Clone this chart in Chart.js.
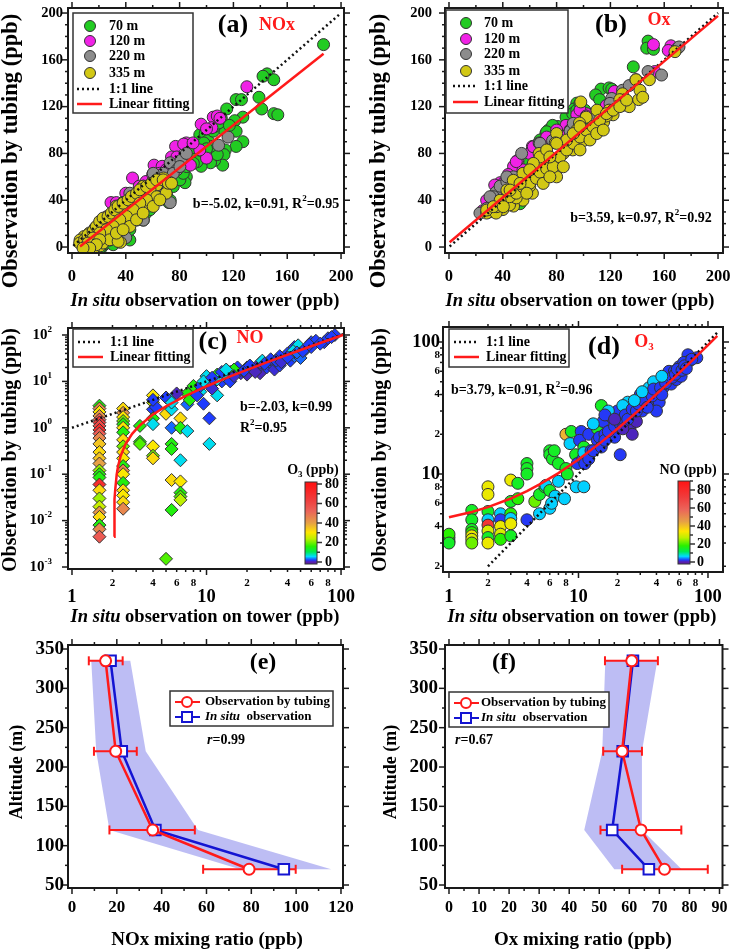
<!DOCTYPE html>
<html>
<head>
<meta charset="utf-8">
<title>Tubing vs in situ observation</title>
<script src="https://cdn.jsdelivr.net/npm/chart.js@4.4.1/dist/chart.umd.min.js"></script>
<style>
  body { margin: 0; background: #fff; }
  #page { position: relative; width: 732px; height: 951px; }
  #page canvas { position: absolute; left: 0; top: 0; }
</style>
</head>
<body>
<div id="page">
  <canvas id="pa" width="732" height="951"></canvas>
  <canvas id="pb" width="732" height="951"></canvas>
  <canvas id="pc" width="732" height="951"></canvas>
  <canvas id="pd" width="732" height="951"></canvas>
  <canvas id="pe" width="732" height="951"></canvas>
  <canvas id="pf" width="732" height="951"></canvas>
</div>
<script>
// ---------- values ----------
const heights = [70, 120, 220, 335];

// (a) NOx, [in situ, tubing]
const nox70 = [[187,173],[145,148],[150,143],[142,146],[139,128],[141,118],[150,114],[153,113],[122,126],[126,126],[127,111],[115,118],[121,108],[127,90],[122,86],[122,99],[111,110],[113,100],[114,83],[113,79],[112,70],[106,74],[103,72],[108,79],[95,80],[96,69],[93,73],[94,89],[95,96],[99,97],[101,91],[105,99],[106,103],[109,106],[103,86],[98,89],[85,86],[84,69],[85,60],[84,55],[80,63],[77,60],[73,40],[72,38],[53,23],[43,6],[23,1],[21,-2],[18,-3],[32,9],[40,10],[80,69],[75,56],[70,52],[63,40],[55,29],[48,23],[40,18],[33,12],[28,6],[88,80],[90,85],[117,104],[100,84],[20.6,-1],[25.6,3.4],[30.6,2],[35.5,11.9],[43,14.8],[50.4,26],[57.9,31.8],[65.3,43.2],[70.3,46],[75.3,51.7],[80.2,57.4],[82.7,63],[85.2,68.8],[90.2,71.6]];
const nox120 = [[130,137],[96,105],[105,111],[104,102],[100,101],[100,76],[95,83],[88,70],[85,89],[77,86],[83,88],[74,77],[61,70],[67,69],[70,66],[45,59],[65,63],[60,38],[29,38],[50,52],[55,56],[40,46],[33,38],[26,26],[18,15],[13,11],[60,62],[78,77],[90,89],[108,112],[110,110]];
const nox220 = [[116,94],[109,87],[73,38],[53,23],[40,8],[43,46],[53,52],[60,56],[68,63],[73,72],[78,66],[81,74],[70,52],[63,46],[55,40],[48,35],[40,26],[33,20],[26,15],[18,9],[11,5],[85,80],[63,40],[38,38],[47,44],[50.4,43.2],[62.9,51.7],[70.3,57.4],[75.3,63],[80.2,68.8],[40.5,29],[33,23.3],[28,17.6],[65.3,46],[60.4,63]];
const nox335 = [[73,55],[68,59],[63,53],[58,49],[53,52],[48,43],[43,40],[38,38],[33,35],[31,29],[26,25],[21,20],[17,16],[13,12],[9,9],[6,6],[36,4],[28,6],[21,1],[16,-1],[11,1],[58,38],[53,35],[45,29],[40,23],[36,19],[31,15],[23,12],[63,43],[70,46],[50,40],[45,23],[28,12],[40,32],[19,11],[15,8],[25,18],[35,27],
  [5.7,3.4],[9.4,6.2],[11.9,10.5],[15.7,13.4],[18.1,17.6],[20.6,21.9],[23.1,24.7],[26.8,26.1],[29.3,29],[31.8,31.8],[34.3,34.7],[38,37.5],[41.7,40.3],[44.2,43.2],[48,46],[50.4,48.9],[55.4,51.7],[59.1,54.5],[62.9,57.4],[67.8,57.4],[71.6,54.5],[74,54.5],[55.4,40.3],[50.4,37.5],[45.5,31.8],[40.5,26.1],[35.5,23.3],[30.6,17.6],[25.6,14.8],[20.6,11.9],[15.7,7.7],[11.9,3.4],[23.1,3.4],[28.1,6.2],[34.3,4.8],[43,17.6],[48,23.3],[52.9,29],[60.4,34.7],[65.3,40.3],[33,11.9],[38,14.8],[20.6,6.2],[18.1,2],[13.2,-0.9],[8.2,-0.9]];
const noxFit = [[6,0.4],[187,165.2]];
const noxOne = [[1,1],[200,200]];

// (b) Ox
const ox70 = [[148,176],[147,170],[152,169],[137,154],[113,135],[109,130],[119,136],[121,135],[95,123],[93,118],[87,111],[81,103],[74,100],[72,97],[77,104],[92,114],[101,117],[112,126],[55,43],[51,40],[48,37],[38,32],[54,47],[66,88],[85,95],[60,72],[100,108],[72.6,98.5],[67.7,91.5],[95,117],[97.4,122.8],[52.8,37]];
const ox120 = [[152,173],[165,172],[163,168],[153,150],[123,133],[117,121],[95,113],[87,104],[72,91],[74,89],[62,86],[60,80],[51,74],[48,69],[44,62],[38,55],[34,53],[28,40],[25,31],[82,96],[90,100],[102,114],[67,83],[55,66],[110,112],[42,50],[50,73],[62.7,85.7],[72.6,94],[80,100],[40.4,54.4],[35.5,47],[97.4,117],[102,112]];
const ox220 = [[170,170],[171,171],[148,150],[158,147],[129,134],[121,127],[129,121],[112,114],[107,109],[90,99],[54,80],[48,60],[35,47],[33,43],[38,52],[43,56],[28,33],[23,29],[67,89],[77,91],[97,103],[134,138],[139,143],[57,63],[62,69],[30,30],[30.5,43],[67.7,88.6],[92.4,105.7],[119.7,122.8],[43,60]];
const ox335 = [[168,167],[149,143],[139,143],[141,126],[142,134],[129,131],[119,117],[115,107],[107,99],[110,117],[98,124],[102,111],[97,106],[90,91],[87,86],[80,97],[79,89],[80,60],[74,66],[72,77],[66,72],[62,60],[57,56],[53,52],[48,46],[43,40],[38,38],[33,33],[28,29],[67,80],[82,77],[92,83],[100,91],[105,94],[112,103],[122,113],[127,126],[134,120],[144,128],[55,40],[48,35],[62,46],[40,32],[45,36],[35,29],[70,62],[85,80],[95,100],[117,112],[60,52],[50,42],[77,72],
  [28,31.6],[35.5,34.5],[40,40],[45,43],[50,46],[55,51.5],[60,54.4],[65,58.7],[67.7,64],[72.6,67],[77.5,68.6],[82.5,77],[87.5,83],[92.4,88.6],[97.4,94],[102,100],[107,103],[112,108.5],[117,114],[122,117],[67.7,77],[72.6,83],[62.7,71.5],[55,63],[47.8,57],[43,48.7],[38,40],[33,34.5],[87.5,91.5],[92.4,97],[97.4,103],[80,88.6],[75,77],[60,66],[52.8,54.4],[45.4,48.7],[40.4,34.5],[57.8,46],[70,54.4],[75,60],[85,68.6],[97.4,83],[104.8,91.5],[109.8,97],[114.7,100],[127,120],[132,125.6]];
const oxFit = [[0.5,4.1],[200,197.6]];
const oxOne = [[0.5,0.5],[200,200]];

// (c) NO, [in situ, tubing, O3]
const noPts = [
  [1.6,3.0,15],[1.6,2.6,45],[1.6,2.2,30],[1.6,1.8,42],[1.6,1.5,55],[1.6,1.3,65],[1.6,1.1,60],[1.6,0.9,70],[1.6,0.75,55],[1.6,0.6,45],[1.6,0.45,35],[1.6,0.3,32],[1.6,0.22,35],[1.6,0.17,40],[1.6,0.12,22],[1.6,0.1,15],[1.6,0.085,15],[1.6,0.06,70],[1.6,0.045,32],[1.6,0.03,22],[1.6,0.02,25],[1.6,0.015,42],[1.6,0.012,32],[1.6,0.008,15],[1.6,0.0065,45],[1.6,0.0045,55],
  [2.4,2.6,32],[2.4,2.1,42],[2.4,1.7,30],[2.4,1.4,20],[2.4,1.2,15],[2.4,1.0,30],[2.4,0.8,15],[2.4,0.55,32],[2.4,0.4,20],[2.4,0.3,32],[2.4,0.22,30],[2.4,0.15,15],[2.4,0.12,45],[2.4,0.1,30],[2.4,0.065,15],[2.4,0.045,32],[2.4,0.035,30],[2.4,0.025,32],[2.4,0.018,45],
  [3.2,1.1,15],[3.2,0.5,15],[3.2,0.45,18],
  [4.0,5,30],[4.0,3.5,25],[4.0,2.5,2],[4.0,1.6,15],[4.0,1.2,6],[4.0,0.4,30],[4.0,0.25,20],[4.0,0.22,32],
  [5.0,2.0,32],[5.0,0.0015,18],
  [5.5,4.2,6],[5.5,2.5,6],[5.5,1.0,3],[5.5,0.45,15],[5.5,0.35,15],[5.5,0.075,32],[5.5,0.017,15],
  [6.4,1.6,32],[6.4,1.0,15],[6.4,0.2,6],[6.4,0.07,30],[6.4,0.04,15],[6.4,0.033,18],[6.4,0.028,24],
  [7.2,0.85,6],[7.2,3.2,3],[7.2,5.5,15],
  [8,8,15],[9,6,6],[9.5,3.3,2],[10.5,1.6,2],[10.5,0.45,6],[10,13,6],[12,14,15],[11,9,3],[12,5,6],[13,10,2],[11,7,1],[15,16,2],[14,12,6],[17,20,2],[18,15,1],[20,14,0.5],[22,18,2],[25,15,0.5],[24,20,2],[28,20,2],[30,25,2],[32,18,1],[35,22,2],[38,30,3],[40,40,2],[42,28,2],[45,35,3],[45,55,2],[48,60,6],[50,40,2],[60,70,2],[65,75,2],[75,70,2],[90,100,2],[6,5.5,0.5],[5,4.5,2],[7.5,4,15],[8.5,5,2],[4.2,2.8,2],[5.5,3.5,6],[4,4,2],[30,30,2],[20,20,2],[25,25,0.5],[15,10,2],[35,35,2],[55,50,3],[80,85,2],[60,55,2],[12,11,6],[9,8,2],[16,18,15],[26,28,6],[50,32,3],[44,45,6],
  [13,16,2],[14,18,6],[19,17,2],[21,22,2],[23,16,0.5],[27,24,2],[33,28,2],[36,26,1],[40,33,2],[47,42,3],[52,45,2],[58,62,2],[70,65,2],[85,90,2],[16,13,1],[9.5,10,6],[11,12,2]
];
const noFit = [[2.055,0.0045],[2.06,0.0094],[2.08,0.029],[2.1,0.049],[2.15,0.099],[2.2,0.148],[2.3,0.247],[2.5,0.445],[2.8,0.742],[3.2,1.138],[4,1.93],[5,2.92],[7,4.9],[10,7.87],[15,12.82],[20,17.77],[30,27.67],[50,47.47],[80,77.17],[115,111.8]];
const noOne = [[1,1],[115,115]];

// (d) O3, [in situ, tubing, NO]
const o3Pts = [
  [1,3.3,15],[1,3.1,15],[1,3.5,18],[1,3.0,15],
  [1.5,5.3,15],[1.5,4.5,15],[1.5,3.8,15],[1.5,3.6,18],[1.5,3.4,32],[1.5,3.2,30],[1.5,3.0,22],
  [2,8,32],[2,7,32],[2,5.2,15],[2,4.5,6],[2,4.1,75],[2,3.7,30],[2,3.3,15],[2,3.0,32],
  [2.5,5,6],[2.5,4.5,2],[2.5,4,32],[2.5,3.5,30],[2.5,3.2,18],
  [3,9,32],[3,6.2,15],[3,5,18],[3,4.6,6],[3,4.2,32],[3,3.4,15],
  [3.4,8.5,15],[3.4,6.5,18],
  [4,12,15],[4,11,15],[4,10,15],[4,4.5,2],
  [4.6,6.2,22],[5,7,15],[5,5,6],[5.5,8,15],[5.6,8.2,6],
  [6,15,15],[6,14,15],[6.3,13,15],[6,7.5,15],[6,5.5,6],
  [6.5,15,15],[6.6,6.8,6],[6.2,6,6],
  [7,12,15],[7,8.8,6],
  [8,20,42],[8.8,21,15],[8,11,15],[8.2,10,15],[7.8,6.5,6],[8.6,17,6],
  [9.5,14,15],[9.8,12,2],[9.6,8,6],
  [10.5,21,2],[10.2,18,2],[11,16,15],[10.8,13,2],[11.2,12,2],[11,8,6],[11,14.5,6],
  [12,20,2],[12.5,15,2],[14,18,2],[14,22,15],[14.5,19,2],
  [15,33,15],[15.5,25,2],[16,20,2],[18,27,2],[18.5,22,6],[19,19,2],[20,30,2],[21,14,2],
  [22,26,2],[23,23,0.5],[25,32,2],[25,22,0.5],[26,20,0.5],[27,28,2],[30,40,2],[30,35,2],[31,30,2],[28,25,0.5],[35,45,6],[35,40,2],[36,33,2],[40,47,2],[40,42,2],[42,35,2],[40,30,2],[45,50,2],[45,45,2],[50,55,2],[50,60,2],[52,48,2],[55,60,2],[57,52,2],[60,65,2],[62,55,2],[70,80,2],[72,72,2],[82,76,2],[17,30,6],[20,25,2],[24,35,6],[33,38,2],[38,50,6],[48,52,2],[65,70,2],[13,24,6],[16,28,2],[22,33,6],
  [12,13,2],[13,15,2],[15,16,2],[16,18,2],[17,21,2],[19,23,2],[21,24,2],[23,28,2],[24,26,2],[26,31,2],[28,30,2],[29,34,2],[32,36,2],[34,32,2],[37,39,2],[38,44,2],[43,45,2],[44,40,2],[47,49,2],[53,54,2],[56,57,2],[58,62,2],[63,61,2],[66,66,2],[68,63,2],[75,74,2],[27,36,6],[31,42,6],[44,55,6],[19,26,0.5],[22,22,0.5]
];
const o3Fit = [[1,4.7],[1.5,5.16],[2,5.61],[3,6.52],[4,7.43],[5,8.34],[7,10.16],[10,12.89],[15,17.44],[20,21.99],[30,31.09],[50,49.29],[70,67.49],[100,94.79],[118,111.2]];
const o3One = [[2,2],[118,118]];

// (e) NOx profile
const noxTube = [79, 36, 19.5, 15];
const noxTubeLo = [58.5, 16.7, 9.8, 7.5];
const noxTubeHi = [99.8, 54.8, 28.9, 22.6];
const noxSitu = [94.5, 37.2, 22.2, 17.2];
const noxBandLo = [75, 16.7, 10.8, 8.6];
const noxBandHi = [115.6, 56.2, 32.9, 26];

// (f) Ox profile
const oxTube = [71.7, 63.9, 57.6, 60.8];
const oxTubeLo = [57.6, 50.4, 51.3, 51.9];
const oxTubeHi = [86.1, 77.3, 64.2, 69.5];
const oxSitu = [66.5, 54.3, 57.8, 61.2];
const oxBandLo = [55, 45, 51, 52];
const oxBandHi = [77.4, 64.2, 64.2, 69.3];

// tick values
const ticks200 = [0, 40, 80, 120, 160, 200];
const ticks200MinorX = [20, 60, 100, 140, 180];
const ticks200MinorY = [10, 20, 30, 50, 60, 70, 90, 100, 110, 130, 140, 150, 170, 180, 190];
const logMajorX = [1, 10, 100];
const logMinorLabels = [2, 4, 6, 8, 20, 40, 60, 80];
const noDecades = [-3, -2, -1, 0, 1, 2];
const o3MajorY = [10, 100];
const altTicks = [50, 100, 150, 200, 250, 300, 350];
const noxProfTicks = [0, 20, 40, 60, 80, 100, 120];
const oxProfTicks = [0, 10, 20, 30, 40, 50, 60, 70, 80, 90];
const cbarTicks = [0, 20, 40, 60, 80];

// ---------- styling helpers ----------
const FAM = '"Liberation Serif", "Times New Roman", serif';
const COL = { g: '#22cc22', m: '#f022e6', k: '#8c8c8c', y: '#d2c814', red: '#ff1a1a', blue: '#1414d2' };
const CMAP = [
  [0, [90, 30, 170]], [0.025, [30, 60, 255]], [0.07, [0, 220, 255]], [0.13, [0, 235, 80]],
  [0.2, [40, 240, 0]], [0.3, [190, 240, 0]], [0.38, [255, 230, 0]], [0.5, [230, 160, 70]],
  [0.65, [235, 100, 90]], [0.8, [240, 60, 60]], [1, [255, 20, 20]]
];
function cmap(f) {
  f = Math.max(0, Math.min(1, f));
  for (let i = 1; i < CMAP.length; i++) {
    if (f <= CMAP[i][0]) {
      const [f0, c0] = CMAP[i - 1], [f1, c1] = CMAP[i];
      const t = (f - f0) / (f1 - f0);
      return 'rgb(' + c0.map((c, j) => Math.round(c + (c1[j] - c) * t)).join(',') + ')';
    }
  }
  return 'rgb(' + CMAP[CMAP.length - 1][1].join(',') + ')';
}

function fontFor(style, size) {
  const small = style.includes('u') || style.includes('d');
  return (style.includes('i') ? 'italic ' : '') + 'bold ' + (small ? Math.round(size * 0.62) : size) + 'px ' + FAM;
}
function rich(ctx, segs, x, y, size, o = {}) {
  let w = 0;
  for (const [t, s = ''] of segs) { ctx.font = fontFor(s, size); w += ctx.measureText(t).width; }
  ctx.save();
  ctx.translate(x, y);
  if (o.rot) ctx.rotate(o.rot);
  ctx.fillStyle = o.color || '#000';
  ctx.textAlign = 'left';
  ctx.textBaseline = 'middle';
  let cx = o.align === 'left' ? 0 : o.align === 'right' ? -w : -w / 2;
  for (const [t, s = ''] of segs) {
    ctx.font = fontFor(s, size);
    const dy = s.includes('u') ? -size * 0.38 : s.includes('d') ? size * 0.3 : 0;
    ctx.fillText(t, cx, dy);
    cx += ctx.measureText(t).width;
  }
  ctx.restore();
}
function line(ctx, x1, y1, x2, y2) {
  ctx.beginPath(); ctx.moveTo(x1, y1); ctx.lineTo(x2, y2); ctx.stroke();
}
function drawMark(ctx, m, x, y) {
  ctx.beginPath();
  if (m.type === 'rect') ctx.rect(x - m.r, y - m.r, 2 * m.r, 2 * m.r);
  else ctx.arc(x, y, m.r, 0, Math.PI * 2);
  ctx.fillStyle = m.fill; ctx.fill();
  ctx.lineWidth = m.lw || 1; ctx.strokeStyle = m.stroke; ctx.stroke();
}
function drawLegend(ctx, L) {
  const [x1, y1, x2, y2] = L.box;
  ctx.fillStyle = '#fff'; ctx.fillRect(x1, y1, x2 - x1, y2 - y1);
  ctx.lineWidth = 1.5; ctx.strokeStyle = '#333'; ctx.strokeRect(x1, y1, x2 - x1, y2 - y1);
  for (const r of L.rows) {
    if (r.line) {
      ctx.save();
      ctx.strokeStyle = r.line.color; ctx.lineWidth = r.line.width; ctx.setLineDash(r.line.dash || []);
      line(ctx, L.lx1, r.y, L.lx2, r.y);
      ctx.restore();
    }
    if (r.mark) drawMark(ctx, r.mark, L.mx, r.y);
    rich(ctx, r.segs, L.tx, r.y, L.size, { align: 'left' });
  }
}
function drawCbar(ctx, c) {
  const pix = v => c.y0 - v / c.vmax * (c.y0 - c.yTop);
  const g = ctx.createLinearGradient(0, pix(0), 0, pix(c.vmax));
  for (const [f, rgb] of CMAP) g.addColorStop(f, 'rgb(' + rgb.join(',') + ')');
  ctx.fillStyle = g;
  ctx.fillRect(c.x1, c.top, c.x2 - c.x1, c.bot - c.top);
  ctx.lineWidth = 1; ctx.strokeStyle = '#333';
  ctx.strokeRect(c.x1, c.top, c.x2 - c.x1, c.bot - c.top);
  ctx.lineWidth = 1.5;
  for (const v of cbarTicks) {
    line(ctx, c.x2, pix(v), c.x2 + 5, pix(v));
    rich(ctx, [[String(v)]], c.lx, pix(v), 14, { align: 'left' });
    if (v + 10 <= c.vmax) line(ctx, c.x2, pix(v + 10), c.x2 + 3, pix(v + 10));
  }
  rich(ctx, c.title, c.tx, c.ty, 14);
}

const decoPlugin = {
  id: 'deco',
  afterDatasetsDraw(chart, args, o) {
    const ctx = chart.ctx, a = chart.chartArea, sx = chart.scales.x, sy = chart.scales.y;
    ctx.save();
    ctx.strokeStyle = '#1a1a1a';
    ctx.lineWidth = 2;
    ctx.strokeRect(a.left, a.top, a.right - a.left, a.bottom - a.top);
    ctx.lineWidth = 1.5;
    const inX = p => p >= a.left - 0.5 && p <= a.right + 0.5;
    const inY = p => p >= a.top - 0.5 && p <= a.bottom + 0.5;
    for (const [vals, len] of [[o.xMaj, 6], [o.xMin, 3]]) {
      for (const v of vals) {
        const p = sx.getPixelForValue(v);
        if (!inX(p)) continue;
        line(ctx, p, a.bottom, p, a.bottom + len);
        line(ctx, p, a.top, p, a.top - len);
      }
    }
    for (const [vals, len] of [[o.yMaj, 6], [o.yMin, 3]]) {
      for (const v of vals) {
        const p = sy.getPixelForValue(v);
        if (!inY(p)) continue;
        line(ctx, a.left, p, a.left - len, p);
        line(ctx, a.right, p, a.right + len, p);
      }
    }
    for (const L of o.xLab) rich(ctx, L.segs, sx.getPixelForValue(L.v), L.y, L.size);
    for (const L of o.yLab) rich(ctx, L.segs, L.x, sy.getPixelForValue(L.v), L.size, { align: 'right' });
    for (const T of o.texts) rich(ctx, T.segs, T.x, T.y, T.size, T);
    if (o.legend) drawLegend(ctx, o.legend);
    if (o.cbar) drawCbar(ctx, o.cbar);
    ctx.restore();
  }
};

// ---------- builders ----------
const W = 732, H = 951;
const pts = arr => arr.map(([x, y]) => ({ x, y }));
const labs = (vals, pos, size, key, txt) => vals.map(v => ({ v, segs: [[txt ? txt(v) : String(v)]], size, [key]: pos }));
function logMinors(fromExp, toExp) {
  const out = [];
  for (let e = fromExp; e < toExp; e++) for (let m = 2; m <= 9; m++) out.push(m * Math.pow(10, e));
  return out;
}
function scatterSet(arr, color, r) {
  return { data: pts(arr), pointRadius: r, pointBackgroundColor: color, pointBorderColor: '#333', pointBorderWidth: 1 };
}
function lineSet(arr, color, dash) {
  return { data: pts(arr), showLine: true, pointRadius: 0, borderColor: color, borderWidth: 2.5, borderDash: dash || [] };
}
function mkChart(id, area, xs, ys, datasets, deco) {
  return new Chart(document.getElementById(id), {
    type: 'scatter',
    data: { datasets },
    options: {
      responsive: false, animation: false, events: [],
      layout: { padding: { left: area[0], top: area[1], right: W - area[2], bottom: H - area[3] } },
      scales: { x: Object.assign({ display: false }, xs), y: Object.assign({ display: false }, ys) },
      plugins: { legend: { display: false }, tooltip: { enabled: false }, deco }
    },
    plugins: [decoPlugin]
  });
}

const yTitle = (x, y, size) => ({ segs: [['Observation by tubing (ppb)']], x, y, size, rot: -Math.PI / 2 });
const xTitle = (x, y) => ({ segs: [['In situ', 'i'], [' observation on tower (ppb)']], x, y, size: 18.5 });
const dotLine = { color: '#111', width: 2.5, dash: [2, 3] };
const redLine = { color: COL.red, width: 2.5 };
const heightRows = (ys, r) => [COL.g, COL.m, COL.k, COL.y].map((c, i) => ({
  y: ys[i], mark: { r, fill: c, stroke: '#333' }, segs: [[heights[i] + ' m']]
}));

// (a)
mkChart('pa', [68, 8, 344, 253],
  { min: -2.97, max: 202.2 }, { min: -5.1, max: 204.3 },
  [lineSet(noxFit, COL.red), lineSet(noxOne, '#111', [2, 3]),
   scatterSet(nox335, COL.y, 6), scatterSet(nox220, COL.k, 6), scatterSet(nox120, COL.m, 6), scatterSet(nox70, COL.g, 6)],
  {
    xMaj: ticks200, xMin: ticks200MinorX, yMaj: ticks200, yMin: ticks200MinorY,
    xLab: labs(ticks200, 277, 16.5, 'y'), yLab: labs(ticks200, 63, 14.5, 'x'),
    texts: [
      { segs: [['(a)']], x: 233, y: 25, size: 26 },
      { segs: [['NOx']], x: 277, y: 25, size: 18, color: COL.red },
      { segs: [['b=-5.02, k=0.91, R'], ['2', 'u'], ['=0.95']], x: 266, y: 204, size: 14 },
      xTitle(205, 301), yTitle(11, 151, 22.5)
    ],
    legend: {
      box: [73, 13, 193, 113], mx: 90, lx1: 77, lx2: 102, tx: 109, size: 14,
      rows: heightRows([26, 41, 56, 73], 5.5).concat([
        { y: 89, line: dotLine, segs: [['1:1 line']] },
        { y: 104, line: redLine, segs: [['Linear fitting']] }])
    }
  });

// (b)
mkChart('pb', [445, 8, 723, 253],
  { min: -2.97, max: 203.7 }, { min: -5.1, max: 204.3 },
  [lineSet(oxFit, COL.red), lineSet(oxOne, '#111', [2, 3]),
   scatterSet(ox335, COL.y, 6), scatterSet(ox220, COL.k, 6), scatterSet(ox120, COL.m, 6), scatterSet(ox70, COL.g, 6)],
  {
    xMaj: ticks200, xMin: ticks200MinorX, yMaj: ticks200, yMin: ticks200MinorY,
    xLab: labs(ticks200, 277, 16.5, 'y'), yLab: labs(ticks200, 432, 14.5, 'x'),
    texts: [
      { segs: [['(b)']], x: 611, y: 25, size: 26 },
      { segs: [['Ox']], x: 659, y: 20, size: 18, color: COL.red },
      { segs: [['b=3.59, k=0.97, R'], ['2', 'u'], ['=0.92']], x: 641, y: 218, size: 14 },
      xTitle(580, 301), yTitle(379, 151, 22.5)
    ],
    legend: {
      box: [446, 10, 568, 113], mx: 466, lx1: 453, lx2: 478, tx: 484, size: 14,
      rows: heightRows([23, 39, 54, 71], 5.5).concat([
        { y: 86, line: dotLine, segs: [['1:1 line']] },
        { y: 102, line: redLine, segs: [['Linear fitting']] }])
    }
  });

// (c)
mkChart('pc', [68, 328, 344, 569],
  { type: 'logarithmic', min: 0.934, max: 105.2 }, { type: 'logarithmic', min: 0.000906, max: 141.5 },
  [lineSet(noFit, COL.red), lineSet(noOne, '#111', [2, 3]),
   { data: pts(noPts), pointStyle: 'rectRot', pointRadius: 6.5, pointBorderColor: '#333', pointBorderWidth: 1,
     pointBackgroundColor: noPts.map(p => cmap(p[2] / 80)) }],
  {
    xMaj: logMajorX, xMin: logMinors(0, 2),
    yMaj: noDecades.map(e => Math.pow(10, e)), yMin: logMinors(-3, 2),
    xLab: labs(logMinorLabels, 583, 11, 'y', v => String(v >= 10 ? v / 10 : v)).concat(labs(logMajorX, 597, 18.5, 'y')),
    yLab: noDecades.map(e => ({ v: Math.pow(10, e), segs: [['10'], [String(e), 'u']], x: 52, size: 15 })),
    texts: [
      { segs: [['(c)']], x: 213, y: 342, size: 26 },
      { segs: [['NO']], x: 250, y: 338, size: 18, color: COL.red },
      { segs: [['b=-2.03, k=0.99']], x: 240, y: 407, size: 14, align: 'left' },
      { segs: [['R'], ['2', 'u'], ['=0.95']], x: 240, y: 428, size: 14, align: 'left' },
      xTitle(205, 617), yTitle(11, 450, 20)
    ],
    legend: {
      box: [73, 329, 193, 367], mx: 90, lx1: 78, lx2: 103, tx: 110, size: 14,
      rows: [{ y: 342, line: dotLine, segs: [['1:1 line']] }, { y: 357, line: redLine, segs: [['Linear fitting']] }]
    },
    cbar: { x1: 305, x2: 317, top: 482, bot: 564, y0: 562, yTop: 484, vmax: 80, lx: 325,
      title: [['O'], ['3', 'd'], [' (ppb)']], tx: 313, ty: 470 }
  });

// (d)
mkChart('pd', [443, 327, 723, 572],
  { type: 'logarithmic', min: 0.899, max: 130.6 }, { type: 'logarithmic', min: 1.81, max: 129.9 },
  [lineSet(o3Fit, COL.red), lineSet(o3One, '#111', [2, 3]),
   { data: pts(o3Pts), pointRadius: 6, pointBorderColor: '#333', pointBorderWidth: 1,
     pointBackgroundColor: o3Pts.map(p => cmap(p[2] / 90)) }],
  {
    xMaj: logMajorX, xMin: logMinors(0, 2),
    yMaj: o3MajorY, yMin: logMinors(0, 2),
    xLab: labs(logMinorLabels, 583, 11, 'y', v => String(v >= 10 ? v / 10 : v)).concat(labs(logMajorX, 597, 18.5, 'y')),
    yLab: labs(logMinorLabels, 440, 11, 'x', v => String(v >= 10 ? v / 10 : v)).concat(labs(o3MajorY, 440, 18.5, 'x')),
    texts: [
      { segs: [['(d)']], x: 604, y: 347, size: 26 },
      { segs: [['O'], ['3', 'd']], x: 644, y: 342, size: 18, color: COL.red },
      { segs: [['b=3.79, k=0.91, R'], ['2', 'u'], ['=0.96']], x: 451, y: 390, size: 14, align: 'left' },
      xTitle(582, 617), yTitle(381, 450, 20)
    ],
    legend: {
      box: [449, 329, 569, 367], mx: 466, lx1: 454, lx2: 479, tx: 486, size: 14,
      rows: [{ y: 342, line: dotLine, segs: [['1:1 line']] }, { y: 357, line: redLine, segs: [['Linear fitting']] }]
    },
    cbar: { x1: 678, x2: 690, top: 481, bot: 564, y0: 562, yTop: 481, vmax: 90, lx: 697,
      title: [['NO (ppb)']], tx: 688, ty: 470 }
  });

// (e), (f) profiles
function profileSets(tube, lo, hi, situ, bLo, bHi) {
  const errs = heights.map((h, i) => ({
    data: [{ x: lo[i], y: h }, { x: hi[i], y: h }], showLine: true, borderColor: COL.red, borderWidth: 2,
    pointStyle: 'line', rotation: 90, pointRadius: 4.5, pointBorderColor: COL.red, pointBorderWidth: 2
  }));
  const band = {
    data: heights.map((h, i) => ({ x: bLo[i], y: h })).concat(heights.map((h, i) => ({ x: bHi[i], y: h })).reverse()),
    showLine: true, fill: 'shape', backgroundColor: 'rgba(178,178,242,0.85)', borderWidth: 0, pointRadius: 0
  };
  return [
    { data: heights.map((h, i) => ({ x: tube[i], y: h })), showLine: true, borderColor: COL.red, borderWidth: 2.5,
      pointRadius: 5.5, pointBackgroundColor: '#fff', pointBorderColor: COL.red, pointBorderWidth: 2 },
    { data: heights.map((h, i) => ({ x: situ[i], y: h })), showLine: true, borderColor: COL.blue, borderWidth: 2.5,
      pointStyle: 'rect', pointRadius: 7.5, pointBackgroundColor: '#fff', pointBorderColor: COL.blue, pointBorderWidth: 2 }
  ].concat(errs, [band]);
}
const profLegend = (box, mx, lx1, lx2, tx, y1, y2) => ({
  box, mx, lx1, lx2, tx, size: 13,
  rows: [
    { y: y1, line: { color: COL.red, width: 2 }, mark: { r: 5, fill: '#fff', stroke: COL.red, lw: 2 }, segs: [['Observation by tubing']] },
    { y: y2, line: { color: COL.blue, width: 2 }, mark: { type: 'rect', r: 5, fill: '#fff', stroke: COL.blue, lw: 2 }, segs: [['In situ', 'i'], ['  observation']] }
  ]
});
const altTitle = x => ({ segs: [['Altitude (m)']], x, y: 772, size: 18, rot: -Math.PI / 2 });

mkChart('pe', [68, 645, 343, 888],
  { min: -1.78, max: 120.9 }, { min: 46.2, max: 355.1 },
  profileSets(noxTube, noxTubeLo, noxTubeHi, noxSitu, noxBandLo, noxBandHi),
  {
    xMaj: noxProfTicks, xMin: noxProfTicks.map(v => v + 10).slice(0, -1),
    yMaj: altTicks, yMin: altTicks.map(v => v + 25).slice(0, -1),
    xLab: labs(noxProfTicks, 908, 17, 'y'), yLab: labs(altTicks, 64, 19, 'x'),
    texts: [
      { segs: [['(e)']], x: 263, y: 663, size: 24 },
      { segs: [['r', 'i'], ['=0.99']], x: 207, y: 740, size: 14, align: 'left' },
      { segs: [['NOx mixing ratio (ppb)']], x: 207, y: 940, size: 19 },
      altTitle(17)
    ],
    legend: profLegend([170, 691, 333, 726], 187, 175, 200, 205, 702, 717)
  });

mkChart('pf', [445, 645, 723, 888],
  { min: -1.33, max: 91.0 }, { min: 46.2, max: 355.1 },
  profileSets(oxTube, oxTubeLo, oxTubeHi, oxSitu, oxBandLo, oxBandHi),
  {
    xMaj: oxProfTicks, xMin: oxProfTicks.map(v => v + 5).slice(0, -1),
    yMaj: altTicks, yMin: altTicks.map(v => v + 25).slice(0, -1),
    xLab: labs(oxProfTicks, 908, 16, 'y'), yLab: labs(altTicks, 438, 19, 'x'),
    texts: [
      { segs: [['(f)']], x: 504, y: 663, size: 24 },
      { segs: [['r', 'i'], ['=0.67']], x: 455, y: 740, size: 14, align: 'left' },
      { segs: [['Ox mixing ratio (ppb)']], x: 583, y: 940, size: 19 },
      altTitle(391)
    ],
    legend: profLegend([449, 692, 609, 727], 466, 454, 479, 481, 703, 718)
  });
</script>
</body>
</html>
